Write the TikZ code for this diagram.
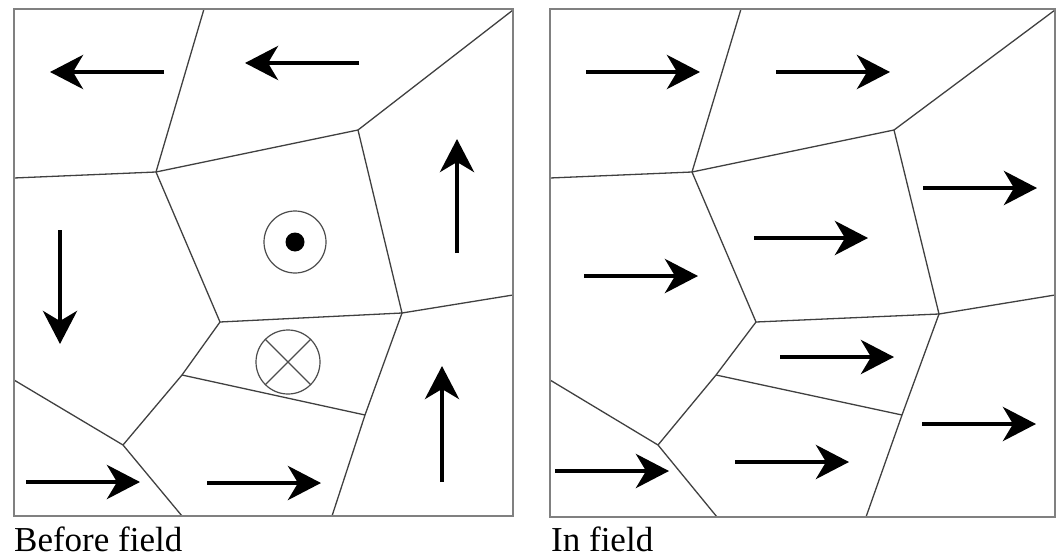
\documentclass[tikz,border=0pt]{standalone}
\usepackage{fontspec}
\setmainfont{Liberation Serif}
\usetikzlibrary{arrows.meta,calc}
\begin{document}
\begin{tikzpicture}[x=1pt,y=-1pt,
  frame/.style={draw=black!50,line width=1.8pt},
  cell/.style={draw=black!75,line width=1.3pt,line join=round},
  moment/.style={line width=4.6pt,-{Stealth[length=33pt,width=34pt,inset=10pt]}},
  ring/.style={draw=black!70,line width=1.2pt},
  caption/.style={inner sep=0pt,anchor=base west,font=\fontsize{35}{40}\selectfont}]
\useasboundingbox (0,0) rectangle (1059,559);
% ---------- left panel ----------
\coordinate (LA) at (204,9);
\coordinate (LB) at (156,172);
\coordinate (LC) at (358,130);
\coordinate (LD) at (220,322);
\coordinate (LE) at (402,313);
\coordinate (LF) at (123,445);
\coordinate (LG) at (182,375);
\coordinate (LH) at (365,415);
\draw[cell] (LA) -- (LB) -- (14,178);
\draw[cell] (LB) -- (LC) -- (513,10);
\draw[cell] (LB) -- (LD) -- (LE) -- (LC);
\draw[cell] (LE) -- (513,295);
\draw[cell] (LD) -- (LG) -- (LF) -- (182,516);
\draw[cell] (14,380) -- (LF);
\draw[cell] (LG) -- (LH);
\draw[cell] (LE) -- (LH) -- (332,516);
\draw[frame] (14,9) rectangle (513,516);
% circles
\coordinate (dotc) at (295,242);
\coordinate (crossc) at (288,362);
\draw[ring] (dotc) circle[radius=31];
\fill (dotc) circle[radius=9.5];
\draw[ring] (crossc) circle[radius=32];
\draw[ring] ($(crossc)+(-22.6,-22.6)$) -- ($(crossc)+(22.6,22.6)$);
\draw[ring] ($(crossc)+(22.6,-22.6)$) -- ($(crossc)+(-22.6,22.6)$);
% arrows
\coordinate (a1s) at (164,72);  \coordinate (a1e) at (50,72);
\coordinate (a2s) at (359,63);  \coordinate (a2e) at (245,63);
\coordinate (a3s) at (457,253); \coordinate (a3e) at (457,139);
\coordinate (a4s) at (60,230);  \coordinate (a4e) at (60,344);
\coordinate (a5s) at (26,482);  \coordinate (a5e) at (140,482);
\coordinate (a6s) at (207,483); \coordinate (a6e) at (321,483);
\coordinate (a7s) at (442,482); \coordinate (a7e) at (442,366);
\foreach \i in {1,...,7} \draw[moment] (a\i s) -- (a\i e);
\node[caption] (lcap) at (14,551) {Before field};
% ---------- right panel ----------
\coordinate (RA) at (741,9);
\coordinate (RB) at (692,172);
\coordinate (RC) at (894,130);
\coordinate (RD) at (756,322);
\coordinate (RE) at (939,314);
\coordinate (RF) at (658,445);
\coordinate (RG) at (716,375);
\coordinate (RH) at (902,415);
\draw[cell] (RA) -- (RB) -- (550,178);
\draw[cell] (RB) -- (RC) -- (1055,10);
\draw[cell] (RB) -- (RD) -- (RE) -- (RC);
\draw[cell] (RE) -- (1055,295);
\draw[cell] (RD) -- (RG) -- (RF) -- (717,517);
\draw[cell] (550,380) -- (RF);
\draw[cell] (RG) -- (RH);
\draw[cell] (RE) -- (RH) -- (866,517);
\draw[frame] (550,9) rectangle (1055,517);
\coordinate (b1s) at (586,72);  \coordinate (b1e) at (700,72);
\coordinate (b2s) at (776,72);  \coordinate (b2e) at (890,72);
\coordinate (b3s) at (923,188); \coordinate (b3e) at (1037,188);
\coordinate (b4s) at (754,238); \coordinate (b4e) at (868,238);
\coordinate (b5s) at (584,276); \coordinate (b5e) at (698,276);
\coordinate (b6s) at (780,357); \coordinate (b6e) at (894,357);
\coordinate (b7s) at (922,424); \coordinate (b7e) at (1036,424);
\coordinate (b8s) at (735,462); \coordinate (b8e) at (849,462);
\coordinate (b9s) at (555,471); \coordinate (b9e) at (669,471);
\foreach \i in {1,...,9} \draw[moment] (b\i s) -- (b\i e);
\node[caption] (rcap) at (551,551) {In field};
\end{tikzpicture}
\end{document}
